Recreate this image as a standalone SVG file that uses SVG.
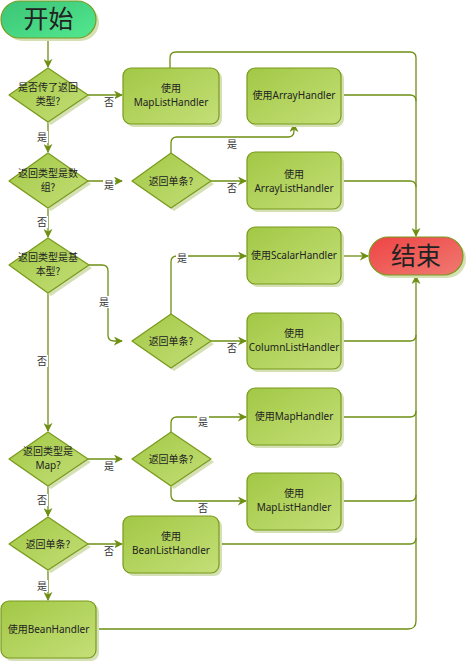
<svg xmlns="http://www.w3.org/2000/svg" width="467" height="661" viewBox="0 0 467 661">
  <defs>
    <linearGradient id="gBox" x1="0" y1="0" x2="1" y2="1">
      <stop offset="0" stop-color="#a2c845"/>
      <stop offset="1" stop-color="#c4df78"/>
    </linearGradient>
    <linearGradient id="gStart" x1="0" y1="0" x2="1" y2="1">
      <stop offset="0" stop-color="#3cc476"/>
      <stop offset="1" stop-color="#52e88f"/>
    </linearGradient>
    <linearGradient id="gEnd" x1="0" y1="0" x2="1" y2="1">
      <stop offset="0" stop-color="#ee4444"/>
      <stop offset="1" stop-color="#f07a72"/>
    </linearGradient>
    <marker id="arr" viewBox="0 0 10 10" refX="9" refY="5" markerWidth="9" markerHeight="9" markerUnits="userSpaceOnUse" orient="auto">
      <path d="M0,0 L10,5 L0,10 L3,5 Z" fill="#6e8f13"/>
    </marker>
  </defs>
  <style>
    .box{fill:url(#gBox);stroke:#799a1c;stroke-width:1.2}
    .dia{fill:url(#gBox);stroke:#799a1c;stroke-width:1.2;stroke-linejoin:round}
    .shadow{fill:#d5e1b4}
    .txt{font-family:"Noto Sans","Noto Sans CJK SC",sans-serif;font-size:10px;fill:#222;text-anchor:middle}
    .cjk{font-family:"Noto Sans CJK SC",sans-serif;font-size:10px;fill:#222;text-anchor:middle}
    .big{font-family:"Noto Sans CJK SC",sans-serif;font-size:25px;fill:#222;text-anchor:middle}
    .conn path{fill:none;stroke:#6e8f13;stroke-width:1.3}
    .lbl{font-family:"Noto Sans CJK SC",sans-serif;font-size:10px;fill:#333;text-anchor:middle}
    .lblbg{fill:#fff}
  </style>
  <rect width="467" height="661" fill="#fff"/>

  <!-- connectors -->
  <g id="connectors" class="conn">
    <path d="M48,38 V67" marker-end="url(#arr)"/>
    <path d="M88,95 H122" marker-end="url(#arr)"/>
    <path d="M48,122 V152" marker-end="url(#arr)"/>
    <path d="M170,68 V58 Q170,52 176,52 H410 Q416,52 416,58 V236" marker-end="url(#arr)"/>
    <path d="M341,95 H410 Q416,95 416,101"/>
    <path d="M88,181 H122" marker-end="url(#arr)"/>
    <path d="M171,153 V143 Q171,137 177,137 H288 Q294,137 294,131 V124" marker-end="url(#arr)"/>
    <path d="M211,181 H246" marker-end="url(#arr)"/>
    <path d="M341,181 H410 Q416,181 416,187"/>
    <path d="M48,208 V237" marker-end="url(#arr)"/>
    <path d="M89,265 H102 Q108,265 108,271 V335 Q108,341 114,341 H122" marker-end="url(#arr)"/>
    <path d="M171,314 V262 Q171,256 177,256 H246" marker-end="url(#arr)"/>
    <path d="M211,341 H246" marker-end="url(#arr)"/>
    <path d="M341,256 H368" marker-end="url(#arr)"/>
    <path d="M341,341 H410 Q416,341 416,335"/>
    <path d="M48,293 V431" marker-end="url(#arr)"/>
    <path d="M88,459 H122" marker-end="url(#arr)"/>
    <path d="M171,432 V423 Q171,417 177,417 H246" marker-end="url(#arr)"/>
    <path d="M171,486 V495 Q171,501 177,501 H246" marker-end="url(#arr)"/>
    <path d="M341,417 H410 Q416,417 416,411"/>
    <path d="M341,501 H410 Q416,501 416,495"/>
    <path d="M48,486 V516" marker-end="url(#arr)"/>
    <path d="M88,544 H122" marker-end="url(#arr)"/>
    <path d="M219,544 H410 Q416,544 416,538"/>
    <path d="M48,570 V600" marker-end="url(#arr)"/>
    <path d="M96,629 H408 Q416,629 416,621 V276" marker-end="url(#arr)"/>
  </g>

  <!-- connector labels -->
  <g id="labels">
    <rect class="lblbg" x="103" y="96" width="12" height="12"/><text class="lbl" x="109" y="106">否</text>
    <rect class="lblbg" x="36" y="131" width="12" height="12"/><text class="lbl" x="42" y="141">是</text>
    <rect class="lblbg" x="103" y="179" width="12" height="12"/><text class="lbl" x="109" y="189">是</text>
    <rect class="lblbg" x="226" y="138" width="12" height="12"/><text class="lbl" x="232" y="148">是</text>
    <rect class="lblbg" x="226" y="182" width="12" height="12"/><text class="lbl" x="232" y="192">否</text>
    <rect class="lblbg" x="36" y="216" width="12" height="12"/><text class="lbl" x="42" y="226">否</text>
    <rect class="lblbg" x="98" y="296" width="12" height="12"/><text class="lbl" x="104" y="306">是</text>
    <rect class="lblbg" x="176" y="252" width="12" height="12"/><text class="lbl" x="182" y="262">是</text>
    <rect class="lblbg" x="226" y="342" width="12" height="12"/><text class="lbl" x="232" y="352">否</text>
    <rect class="lblbg" x="36" y="355" width="12" height="12"/><text class="lbl" x="42" y="365">否</text>
    <rect class="lblbg" x="103" y="460" width="12" height="12"/><text class="lbl" x="109" y="470">是</text>
    <rect class="lblbg" x="197" y="416" width="12" height="12"/><text class="lbl" x="203" y="426">是</text>
    <rect class="lblbg" x="197" y="502" width="12" height="12"/><text class="lbl" x="203" y="512">否</text>
    <rect class="lblbg" x="36" y="494" width="12" height="12"/><text class="lbl" x="42" y="504">否</text>
    <rect class="lblbg" x="103" y="545" width="12" height="12"/><text class="lbl" x="109" y="555">否</text>
    <rect class="lblbg" x="36" y="580" width="12" height="12"/><text class="lbl" x="42" y="590">是</text>
  </g>

  <!-- terminals -->
  <g id="start">
    <rect class="shadow" x="4" y="4" width="95" height="37" rx="18.5"/>
    <rect x="1" y="1" width="95" height="37" rx="18.5" fill="url(#gStart)" stroke="#799a1c" stroke-width="1.2"/>
    <text class="big" x="48.5" y="28">开始</text>
  </g>
  <g id="end">
    <rect class="shadow" x="372" y="240" width="94" height="38" rx="19"/>
    <rect x="369" y="237" width="94" height="38" rx="19" fill="url(#gEnd)" stroke="#799a1c" stroke-width="1.2"/>
    <text class="big" x="416" y="265">结束</text>
  </g>

  <!-- decisions -->
  <g id="d1">
    <polygon class="shadow" points="12,98 51,71 91,98 51,125"/>
    <polygon class="dia" points="9,95 48,68 88,95 48,122"/>
    <text class="cjk" x="48" y="91">是否传了返回</text>
    <text class="cjk" x="48" y="105">类型?</text>
  </g>
  <g id="d2">
    <polygon class="shadow" points="12,184 51,156 91,184 51,211"/>
    <polygon class="dia" points="9,181 48,153 88,181 48,208"/>
    <text class="cjk" x="48" y="177">返回类型是数</text>
    <text class="cjk" x="48" y="191">组?</text>
  </g>
  <g id="d3">
    <polygon class="shadow" points="135,184 174,156 214,184 174,211"/>
    <polygon class="dia" points="132,181 171,153 211,181 171,208"/>
    <text class="cjk" x="171" y="185">返回单条?</text>
  </g>
  <g id="d4">
    <polygon class="shadow" points="12,268 51,241 92,268 51,296"/>
    <polygon class="dia" points="9,265 48,238 89,265 48,293"/>
    <text class="cjk" x="48" y="261">返回类型是基</text>
    <text class="cjk" x="48" y="275">本型?</text>
  </g>
  <g id="d5">
    <polygon class="shadow" points="135,344 174,317 214,344 174,371"/>
    <polygon class="dia" points="132,341 171,314 211,341 171,368"/>
    <text class="cjk" x="171" y="345">返回单条?</text>
  </g>
  <g id="d6">
    <polygon class="shadow" points="12,462 51,435 91,462 51,489"/>
    <polygon class="dia" points="9,459 48,432 88,459 48,486"/>
    <text class="cjk" x="48" y="455">返回类型是</text>
    <text class="txt" x="48" y="469">Map?</text>
  </g>
  <g id="d7">
    <polygon class="shadow" points="135,462 174,435 214,462 174,489"/>
    <polygon class="dia" points="132,459 171,432 211,459 171,486"/>
    <text class="cjk" x="171" y="463">返回单条?</text>
  </g>
  <g id="d8">
    <polygon class="shadow" points="12,547 51,520 91,547 51,573"/>
    <polygon class="dia" points="9,544 48,517 88,544 48,570"/>
    <text class="cjk" x="48" y="548">返回单条?</text>
  </g>

  <!-- handlers -->
  <g id="mapListHandler1">
    <rect class="shadow" x="126" y="71" width="96" height="56" rx="8"/>
    <rect class="box" x="123" y="68" width="96" height="56" rx="8"/>
    <text class="txt" x="171" y="92">使用</text>
    <text class="txt" x="171" y="106">MapListHandler</text>
  </g>
  <g id="arrayHandler">
    <rect class="shadow" x="250" y="71" width="94" height="56" rx="8"/>
    <rect class="box" x="247" y="68" width="94" height="56" rx="8"/>
    <text class="txt" x="294" y="99">使用ArrayHandler</text>
  </g>
  <g id="arrayListHandler">
    <rect class="shadow" x="250" y="155" width="94" height="57" rx="8"/>
    <rect class="box" x="247" y="152" width="94" height="57" rx="8"/>
    <text class="txt" x="294" y="178">使用</text>
    <text class="txt" x="294" y="192">ArrayListHandler</text>
  </g>
  <g id="scalarHandler">
    <rect class="shadow" x="250" y="230" width="94" height="57" rx="8"/>
    <rect class="box" x="247" y="227" width="94" height="57" rx="8"/>
    <text class="txt" x="294" y="259">使用ScalarHandler</text>
  </g>
  <g id="columnListHandler">
    <rect class="shadow" x="250" y="316" width="94" height="56" rx="8"/>
    <rect class="box" x="247" y="313" width="94" height="56" rx="8"/>
    <text class="txt" x="294" y="337">使用</text>
    <text class="txt" x="294" y="351">ColumnListHandler</text>
  </g>
  <g id="mapHandler">
    <rect class="shadow" x="250" y="391" width="94" height="57" rx="8"/>
    <rect class="box" x="247" y="388" width="94" height="57" rx="8"/>
    <text class="txt" x="294" y="420">使用MapHandler</text>
  </g>
  <g id="mapListHandler2">
    <rect class="shadow" x="250" y="476" width="94" height="57" rx="8"/>
    <rect class="box" x="247" y="473" width="94" height="57" rx="8"/>
    <text class="txt" x="294" y="497">使用</text>
    <text class="txt" x="294" y="511">MapListHandler</text>
  </g>
  <g id="beanListHandler">
    <rect class="shadow" x="126" y="519" width="96" height="57" rx="8"/>
    <rect class="box" x="123" y="516" width="96" height="57" rx="8"/>
    <text class="txt" x="171" y="540">使用</text>
    <text class="txt" x="171" y="554">BeanListHandler</text>
  </g>
  <g id="beanHandler">
    <rect class="shadow" x="4" y="604" width="95" height="57" rx="8"/>
    <rect class="box" x="1" y="601" width="95" height="57" rx="8"/>
    <text class="txt" x="48.5" y="633">使用BeanHandler</text>
  </g>
</svg>
